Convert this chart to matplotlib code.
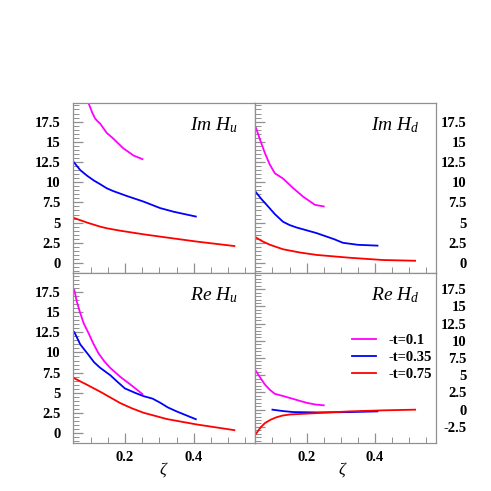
import matplotlib
matplotlib.use("Agg")
import matplotlib.pyplot as plt
from matplotlib.ticker import MultipleLocator, FormatStrFormatter

plt.rcParams['mathtext.fontset'] = 'custom'
plt.rcParams['mathtext.rm'] = 'Liberation Serif'
plt.rcParams['mathtext.it'] = 'Liberation Serif:italic'
plt.rcParams['font.family'] = ['Liberation Serif', 'DejaVu Serif']

series_labels = ['-t=0.1', '-t=0.35', '-t=0.75']
series_colors = ['#ff00ff', '#0000ff', '#ff0000']

# Im H_u
imhu_z_01 = [0.05, 0.07, 0.094, 0.105, 0.113, 0.12, 0.128, 0.137, 0.147, 0.166, 0.195, 0.225, 0.251]
imhu_v_01 = [26.0, 22.5, 19.8, 18.6, 17.9, 17.55, 17.25, 16.7, 16.1, 15.4, 14.2, 13.3, 12.85]
imhu_z_035 = [0.05, 0.07, 0.09, 0.11, 0.128, 0.147, 0.166, 0.205, 0.254, 0.302, 0.341, 0.406]
imhu_v_035 = [12.55, 11.5, 10.8, 10.2, 9.75, 9.25, 8.9, 8.3, 7.6, 6.8, 6.35, 5.75]
imhu_z_075 = [0.05, 0.09, 0.128, 0.147, 0.186, 0.254, 0.322, 0.409, 0.518]
imhu_v_075 = [5.6, 5.0, 4.5, 4.3, 4.0, 3.55, 3.15, 2.65, 2.1]

# Im H_d
imhd_z_01 = [0.052, 0.065, 0.078, 0.092, 0.107, 0.12, 0.131, 0.146, 0.161, 0.19, 0.224, 0.25]
imhd_v_01 = [16.7, 15.1, 13.6, 12.2, 11.1, 10.75, 10.45, 9.85, 9.25, 8.2, 7.2, 7.0]
imhd_z_035 = [0.052, 0.068, 0.083, 0.107, 0.131, 0.15, 0.17, 0.229, 0.28, 0.306, 0.35, 0.407]
imhd_v_035 = [8.75, 7.9, 7.2, 6.05, 5.1, 4.7, 4.4, 3.7, 2.95, 2.5, 2.25, 2.15]
imhd_z_075 = [0.052, 0.07, 0.093, 0.131, 0.18, 0.229, 0.326, 0.423, 0.517]
imhd_v_075 = [3.15, 2.7, 2.25, 1.7, 1.3, 1.0, 0.65, 0.37, 0.28]

# Re H_u
rehu_z_01 = [0.053, 0.06, 0.069, 0.08, 0.094, 0.108, 0.123, 0.14, 0.157, 0.186, 0.22, 0.251]
rehu_v_01 = [17.7, 16.3, 15.0, 13.6, 12.4, 11.1, 9.9, 8.9, 8.1, 7.0, 5.9, 4.85]
rehu_z_035 = [0.053, 0.07, 0.094, 0.11, 0.128, 0.157, 0.18, 0.2, 0.23, 0.254, 0.28, 0.302, 0.325, 0.351, 0.406]
rehu_v_035 = [12.5, 11.0, 9.7, 8.8, 8.1, 7.2, 6.3, 5.55, 5.0, 4.6, 4.3, 3.8, 3.2, 2.7, 1.75]
rehu_z_075 = [0.053, 0.09, 0.128, 0.157, 0.186, 0.22, 0.254, 0.322, 0.409, 0.518]
rehu_v_075 = [6.8, 6.0, 5.15, 4.45, 3.75, 3.1, 2.55, 1.77, 1.1, 0.4]

# Re H_d
rehd_z_01 = [0.052, 0.065, 0.078, 0.092, 0.107, 0.13, 0.151, 0.175, 0.2, 0.225, 0.25]
rehd_v_01 = [5.6, 4.6, 3.65, 2.9, 2.3, 2.0, 1.7, 1.35, 1.0, 0.75, 0.63]
rehd_z_035 = [0.1, 0.13, 0.161, 0.229, 0.326, 0.407]
rehd_v_035 = [0.0, -0.2, -0.35, -0.4, -0.35, -0.25]
rehd_z_075 = [0.052, 0.065, 0.078, 0.095, 0.112, 0.13, 0.151, 0.19, 0.229, 0.326, 0.423, 0.517]
rehd_v_075 = [-3.5, -2.6, -1.95, -1.45, -1.1, -0.85, -0.7, -0.6, -0.5, -0.25, -0.1, 0.0]

panels = [
    dict(title=r'$Im\ H_u$', data=[(imhu_z_01, imhu_v_01), (imhu_z_035, imhu_v_035), (imhu_z_075, imhu_v_075)],
         rect=[73, 103, 182, 169.7], ylim=(-1.2, 19.8), side='left', xlabels=False),
    dict(title=r'$Im\ H_d$', data=[(imhd_z_01, imhd_v_01), (imhd_z_035, imhd_v_035), (imhd_z_075, imhd_v_075)],
         rect=[255, 103, 181, 169.7], ylim=(-1.2, 19.8), side='right', xlabels=False),
    dict(title=r'$Re\ H_u$', data=[(rehu_z_01, rehu_v_01), (rehu_z_035, rehu_v_035), (rehu_z_075, rehu_v_075)],
         rect=[73, 272.7, 182, 170], ylim=(-1.15, 19.85), side='left', xlabels=True),
    dict(title=r'$Re\ H_d$', data=[(rehd_z_01, rehd_v_01), (rehd_z_035, rehd_v_035), (rehd_z_075, rehd_v_075)],
         rect=[255, 272.7, 181, 170], ylim=(-4.8, 19.9), side='right', xlabels=True),
]

W = H = 491
fig = plt.figure(figsize=(4.91, 4.91), dpi=100)
frame_col = '#909090'

for p in panels:
    x, y, w, h = p['rect']
    ax = fig.add_axes([x / W, 1 - (y + h) / H, w / W, h / H])
    lines = []
    for (z, v), c, lab in zip(p['data'], series_colors, series_labels):
        ln, = ax.plot(z, v, color=c, lw=1.3, label=lab, solid_joinstyle='round')
        lines.append(ln)
    ax.set_xlim(0.049, 0.578)
    ax.set_ylim(*p['ylim'])
    ax.xaxis.set_major_locator(MultipleLocator(0.2))
    ax.xaxis.set_minor_locator(MultipleLocator(0.05))
    ax.xaxis.set_major_formatter(FormatStrFormatter('%g'))
    ax.yaxis.set_major_locator(MultipleLocator(2.5))
    ax.yaxis.set_minor_locator(MultipleLocator(0.5))
    ax.yaxis.set_major_formatter(FormatStrFormatter('%g'))
    for s in ax.spines.values():
        s.set_color(frame_col)
        s.set_linewidth(0.9)
    ax.tick_params(which='both', direction='in', color=frame_col, top=False, right=False, left=True, bottom=True)
    ax.tick_params(which='major', length=7, width=0.9)
    ax.tick_params(which='minor', length=4, width=0.7)
    ax.tick_params(axis='y', labelsize=10.5)
    ax.tick_params(axis='x', labelsize=10.5, pad=6)
    if p['side'] == 'left':
        ax.tick_params(axis='y', labelleft=True, labelright=False, pad=9)
    else:
        ax.tick_params(axis='y', labelleft=False, labelright=True, pad=22)
    if p['xlabels']:
        ax.set_xlabel(r'$\zeta$', fontsize=12, labelpad=0)
        ax.xaxis.set_label_coords(0.5 if p['side'] == 'left' else 0.485, -0.1)
    else:
        ax.tick_params(axis='x', labelbottom=False)
    ax.text(0.905, 0.84, p['title'], transform=ax.transAxes, ha='right', va='baseline', fontsize=14)
    if p['title'] == r'$Re\ H_d$':
        ax.legend(handles=lines, loc='center left', bbox_to_anchor=(0.465, 0.5), frameon=False,
                  handlelength=1.6, handletextpad=0.9, labelspacing=0.25,
                  prop=dict(family='Liberation Serif', weight='bold', size=10.5))
    fig.canvas.draw()
    for t in ax.get_yticklabels() + ax.get_xticklabels():
        t.set_fontweight('bold')
        if p['side'] == 'right' and t in ax.get_yticklabels():
            t.set_horizontalalignment('right')

fig.savefig('out.png', dpi=100)
